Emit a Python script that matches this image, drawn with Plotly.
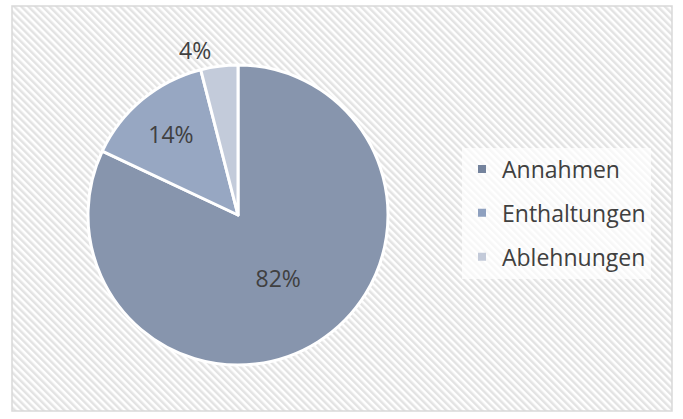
import base64

import plotly.graph_objects as go

# Values
labels = ["Annahmen", "Enthaltungen", "Ablehnungen"]
values = [82, 14, 4]
colors = ["#8795ad", "#97a7c2", "#c3cbda"]
legend_colors = ["#74839d", "#8ea0bf", "#c3cad9"]
text_positions = ["inside", "inside", "outside"]

W, H = 683, 419

# Hatched background, drawn as an inline svg pattern
hatch_svg = (
    "<svg xmlns='http://www.w3.org/2000/svg' width='660' height='405'>"
    "<defs><pattern id='p' width='5' height='5' patternUnits='userSpaceOnUse' "
    "patternTransform='rotate(-45)'>"
    "<rect width='2.5' height='5' fill='#e3e3e3'/></pattern></defs>"
    "<rect width='100%' height='100%' fill='white'/>"
    "<rect width='100%' height='100%' fill='url(#p)'/></svg>"
)
hatch_src = "data:image/svg+xml;base64," + base64.b64encode(hatch_svg.encode()).decode()

fig = go.Figure()

fig.add_trace(go.Pie(
    labels=labels,
    values=values,
    sort=False,
    direction="clockwise",
    rotation=0,
    marker=dict(colors=colors, line=dict(color="white", width=3)),
    textinfo="percent",
    texttemplate="%{percent:.0%}",
    textposition=text_positions,
    insidetextorientation="horizontal",
    textfont=dict(family="Open Sans", size=23, color="#404040"),
    hoverinfo="label+percent",
    showlegend=False,
    domain=dict(x=[88 / W, 388 / W], y=[54 / H, 354 / H]),
))

# legend entries, one group each so the spacing can be set
for name, c in zip(labels, legend_colors):
    fig.add_trace(go.Scatter(
        x=[None], y=[None],
        mode="markers",
        name=name,
        legendgroup=name,
        marker=dict(symbol="square", size=8, color=c),
        hoverinfo="skip",
    ))

fig.add_layout_image(
    source=hatch_src,
    xref="paper", yref="paper",
    x=12 / W, y=1 - 6 / H,
    sizex=660 / W, sizey=405 / H,
    xanchor="left", yanchor="top",
    sizing="stretch",
    layer="below",
)

# Chart border
fig.add_shape(
    type="rect",
    xref="paper", yref="paper",
    x0=12 / W, x1=672 / W,
    y0=1 - 411 / H, y1=1 - 6 / H,
    line=dict(color="#d9d9d9", width=1.5),
    fillcolor="rgba(0,0,0,0)",
)

fig.update_layout(
    width=W, height=H,
    margin=dict(l=0, r=0, t=0, b=0),
    paper_bgcolor="white",
    plot_bgcolor="rgba(0,0,0,0)",
    font=dict(family="Open Sans", color="#404040"),
    xaxis=dict(visible=False),
    yaxis=dict(visible=False),
    showlegend=True,
    legend=dict(
        x=462 / W, y=1 - 213 / H,
        xanchor="left", yanchor="middle",
        bgcolor="rgba(255,255,255,0.7)",
        font=dict(family="Open Sans", size=23, color="#404040"),
        itemwidth=30,
        tracegroupgap=11,
    ),
)

fig.write_html("out.html", config={"displayModeBar": False},
               post_script="document.body.style.margin='0';")
